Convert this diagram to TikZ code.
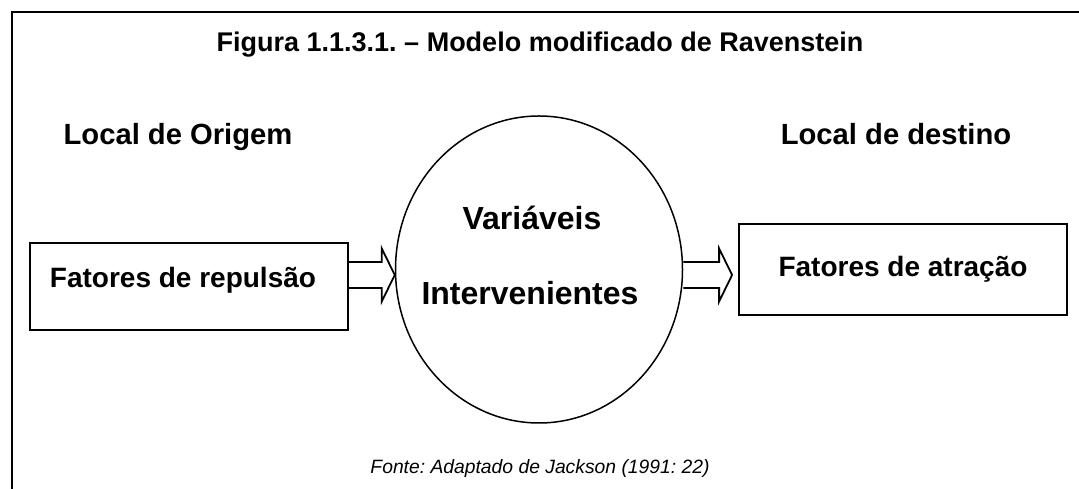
\documentclass[tikz,border=0pt]{standalone}
\usepackage{fontspec}
\setmainfont{Liberation Sans}
\usetikzlibrary{calc,shapes.geometric}
\frenchspacing
\begin{document}
\begin{tikzpicture}[x=1pt,y=1pt,
  frame/.style={line width=2pt},
  boxst/.style={draw,line width=1.8pt,inner sep=0pt},
  ellst/.style={draw,ellipse,line width=1.5pt,inner sep=0pt,minimum width=287pt,minimum height=307pt},
  blk/.style={draw,line width=1.8pt,line join=miter},
  lbl/.style={font=\fontsize{28}{32}\selectfont\bfseries,anchor=base,inner sep=0pt},
  loc/.style={font=\fontsize{29.2}{33}\selectfont\bfseries,anchor=base,inner sep=0pt},
  eltx/.style={font=\fontsize{32}{36}\selectfont\bfseries,anchor=base,inner sep=0pt},
  ttl/.style={font=\fontsize{27}{31}\selectfont\bfseries,anchor=base,inner sep=0pt},
  src/.style={font=\fontsize{19.3}{23}\selectfont\itshape,anchor=base,inner sep=0pt}]
\useasboundingbox (0,0) rectangle (1079,489);
\fill[white] (0,0) rectangle (1079,489);
% outer frame
\coordinate (fbl) at (12,0);
\coordinate (ftl) at (12,476.5);
\coordinate (ftr) at (1079,476.5);
\draw[frame] (fbl) -- (ftl) -- (ftr);
% title
\node[ttl] (title) at (540,437) {Figura 1.1.3.1. – Modelo modificado de Ravenstein};
\node[loc] (orig) at (178,344) {Local de Origem};
\node[loc] (dest) at (896,344) {Local de destino};
% boxes
\node[boxst,minimum width=318pt,minimum height=87pt] (lbox) at (189,202.5) {};
\node[boxst,minimum width=328pt,minimum height=91pt] (rbox) at (903,219.5) {};
\node[lbl] (ltx) at (183,201) {Fatores de repulsão};
\node[lbl] (rtx) at (903,212) {Fatores de atração};
% ellipse
\node[ellst] (ell) at (539,219.5) {};
\node[eltx] (v1) at (532,259) {Variáveis};
\node[eltx] (v2) at (530,184) {Intervenientes};
% block arrows
\coordinate (la) at ([yshift=-5.5pt]ell.west);
\draw[blk] ($(lbox.east |- la)+(0,13)$) -- ($(la)+(-13,13)$) -- ($(la)+(-13,26.5)$) -- (la)
  -- ($(la)+(-13,-26.5)$) -- ($(la)+(-13,-13)$) -- ($(lbox.east |- la)+(0,-13)$);
\coordinate (rt) at ([yshift=-5.5pt]ell.east);
\coordinate (rp) at ($(rbox.west |- rt)+(-6,0)$);
\draw[blk] ($(rt)+(0,13)$) -- ($(rp)+(-13,13)$) -- ($(rp)+(-13,26.5)$) -- (rp)
  -- ($(rp)+(-13,-26.5)$) -- ($(rp)+(-13,-13)$) -- ($(rt)+(0,-13)$);
% source
\node[src] (fonte) at (540,15) {Fonte: Adaptado de Jackson (1991: 22)};
\end{tikzpicture}
\end{document}
